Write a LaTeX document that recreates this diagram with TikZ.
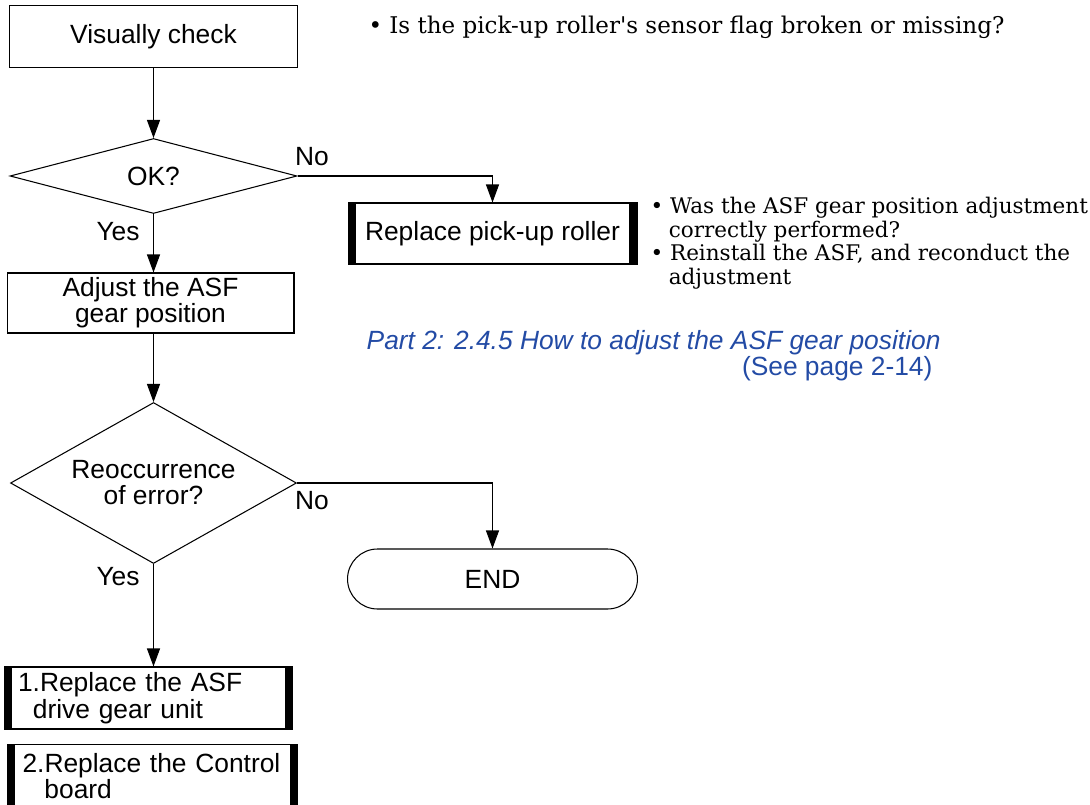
\documentclass[tikz,border=0pt]{standalone}
\usepackage{fontspec}
\setmainfont{DejaVu Serif}
\setsansfont{Liberation Sans}
\usetikzlibrary{
    arrows.meta,
    shapes.geometric,
    positioning
}
\definecolor{refblue}{RGB}{35,75,165}

\begin{document}
\begin{tikzpicture}[x=0.02cm,y=-0.02cm,line width=0.6pt,
    flow/.style={-{Triangle[length=0.36cm,width=0.26cm]}},
    proc/.style={draw,rectangle,inner sep=0pt,align=center,
        font=\sffamily\fontsize{15}{14.8}\selectfont},
    fixbox/.style={proc,path picture={
        \fill (path picture bounding box.north west) rectangle
            ([xshift=0.15cm]path picture bounding box.south west);
        \fill (path picture bounding box.north east) rectangle
            ([xshift=-0.15cm]path picture bounding box.south east);}},
    query/.style={draw,diamond,inner sep=0pt,align=center,
        font=\sffamily\fontsize{15}{14.8}\selectfont},
    lbl/.style={font=\sffamily\fontsize{15}{17}\selectfont},
    note/.style={align=left,inner sep=0pt,font=\fontsize{12.25}{13.4}\selectfont}
]
\useasboundingbox (0,0) rectangle (1090,805);

% Visual check
\node[proc,minimum width=5.76cm,minimum height=1.24cm] (vis) at (153.5,36.5) {Visually check};
\node[note,anchor=base west,font=\fontsize{13.1}{14}\selectfont] (flagnote) at (368,33)
    {\textbullet\ Is the pick-up roller\textquotesingle s sensor flag broken or missing?};

% First decision
\node[query,aspect=3.8,minimum width=5.74cm,minimum height=1.5cm] (ok) at (153.5,176) {OK?};
\draw[flow] (vis) -- (ok);

% Replace roller
\node[fixbox,minimum width=5.78cm,minimum height=1.22cm] (roller) at (492.5,233.5) {Replace pick-up roller};
\draw[flow] (ok.east) -| (roller.north);
\node[lbl] (okno) at (312,157) {No};
\node[note,anchor=north west] (gearnote) at (650,197)
    {\textbullet\ Was the ASF gear position adjustment\\
     \hspace{0.85em}correctly performed?\\
     \textbullet\ Reinstall the ASF, and reconduct the\\
     \hspace{0.85em}adjustment};

% Adjustment
\node[proc,minimum width=5.74cm,minimum height=1.2cm] (adj) at (150.5,303) {Adjust the ASF\\gear position};
\draw[flow] (ok.south) -- (ok.south |- adj.north);
\node[lbl] (okyes) at (118,232) {Yes};
\node[align=right,inner sep=0pt,anchor=north east,text=refblue,
    font=\sffamily\fontsize{15}{14.8}\selectfont] (ref) at (941,330)
    {\textit{Part 2: 2.4.5 How to adjust the ASF gear position}\\(See page 2-14)\hspace*{0.16cm}};

% Second decision
\node[query,aspect=1.78,minimum width=5.72cm,minimum height=3.22cm] (again) at (153.5,483) {Reoccurrence\\of error?};
\draw[flow] (adj.south -| again.north) -- (again.north);

% End
\node[proc,rounded corners=0.6cm,minimum width=5.8cm,minimum height=1.2cm] (finish) at (492.5,579) {END};
\draw[flow] (again.east) -| (finish.north);
\node[lbl] (againno) at (312,501) {No};

% Parts to replace
\node[fixbox,minimum height=1.24cm,align=left,text width=5.22cm,inner xsep=0.28cm,
    font=\sffamily\fontsize{15}{15.2}\selectfont] (gear) at (148.5,698)
    {1.Replace the ASF\\\hspace*{8.5pt}drive gear unit};
\draw[flow] (again.south) -- (again.south |- gear.north);
\node[lbl] (againyes) at (118,577) {Yes};
\node[fixbox,minimum height=1.26cm,align=left,text width=5.2cm,inner xsep=0.3cm,
    font=\sffamily\fontsize{15}{15.2}\selectfont] (board) at (152.5,776)
    {2.Replace the Control\\\hspace*{12.5pt}board};

\end{tikzpicture}
\end{document}
